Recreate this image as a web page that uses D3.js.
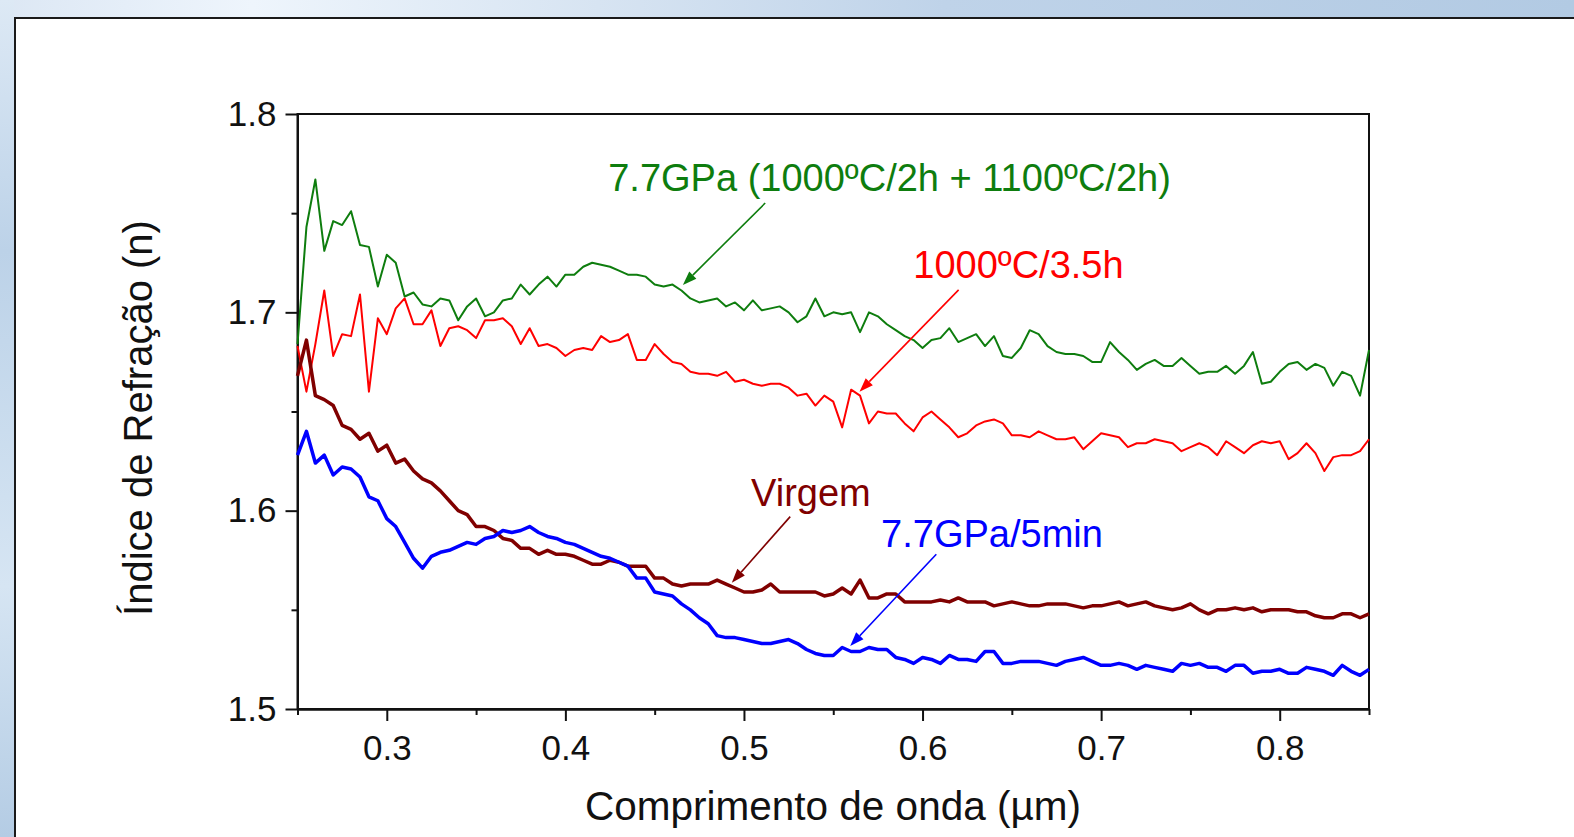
<!DOCTYPE html>
<html>
<head>
<meta charset="utf-8">
<script src="https://cdn.jsdelivr.net/npm/d3@7"></script>
<style>
  html, body { margin: 0; padding: 0; overflow: hidden; }
  body {
    width: 1574px; height: 837px;
    background: linear-gradient(to right, #dce7f4 0%, #eef5fc 16%, #d7e4f2 38%, #bfd3e9 60%, #b2cae3 100%);
  }
  #chart { position: absolute; left: 0; top: 0; }
  text { font-family: "Liberation Sans", Arial, sans-serif; }
</style>
</head>
<body>
<svg id="chart" width="1574" height="837"></svg>
<script>
// Comprimento de onda (µm), amostrado a cada 0.005
const wavelength = [
  0.250, 0.255, 0.260, 0.265, 0.270, 0.275, 0.280, 0.285, 0.290, 0.295,
  0.300, 0.305, 0.310, 0.315, 0.320, 0.325, 0.330, 0.335, 0.340, 0.345,
  0.350, 0.355, 0.360, 0.365, 0.370, 0.375, 0.380, 0.385, 0.390, 0.395,
  0.400, 0.405, 0.410, 0.415, 0.420, 0.425, 0.430, 0.435, 0.440, 0.445,
  0.450, 0.455, 0.460, 0.465, 0.470, 0.475, 0.480, 0.485, 0.490, 0.495,
  0.500, 0.505, 0.510, 0.515, 0.520, 0.525, 0.530, 0.535, 0.540, 0.545,
  0.550, 0.555, 0.560, 0.565, 0.570, 0.575, 0.580, 0.585, 0.590, 0.595,
  0.600, 0.605, 0.610, 0.615, 0.620, 0.625, 0.630, 0.635, 0.640, 0.645,
  0.650, 0.655, 0.660, 0.665, 0.670, 0.675, 0.680, 0.685, 0.690, 0.695,
  0.700, 0.705, 0.710, 0.715, 0.720, 0.725, 0.730, 0.735, 0.740, 0.745,
  0.750, 0.755, 0.760, 0.765, 0.770, 0.775, 0.780, 0.785, 0.790, 0.795,
  0.800, 0.805, 0.810, 0.815, 0.820, 0.825, 0.830, 0.835, 0.840, 0.845,
  0.850
];

// 7.7GPa (1000ºC/2h + 1100ºC/2h)
const nGpaDuplo = [
  1.684, 1.743, 1.767, 1.731, 1.746, 1.744, 1.751, 1.734, 1.733, 1.713,
  1.729, 1.725, 1.708, 1.710, 1.704, 1.703, 1.707, 1.706, 1.696, 1.703,
  1.707, 1.698, 1.700, 1.706, 1.707, 1.714, 1.709, 1.714, 1.718, 1.713,
  1.719, 1.719, 1.723, 1.725, 1.724, 1.723, 1.721, 1.719, 1.719, 1.718,
  1.714, 1.713, 1.714, 1.711, 1.707, 1.705, 1.706, 1.707, 1.703, 1.705,
  1.701, 1.706, 1.701, 1.702, 1.703, 1.700, 1.695, 1.698, 1.707, 1.698,
  1.700, 1.699, 1.700, 1.690, 1.700, 1.698, 1.694, 1.691, 1.688, 1.686,
  1.682, 1.686, 1.687, 1.692, 1.685, 1.687, 1.689, 1.683, 1.688, 1.678,
  1.677, 1.682, 1.691, 1.689, 1.683, 1.680, 1.679, 1.679, 1.678, 1.675,
  1.675, 1.685, 1.680, 1.676, 1.671, 1.674, 1.676, 1.673, 1.673, 1.677,
  1.673, 1.669, 1.670, 1.670, 1.673, 1.669, 1.673, 1.680, 1.664, 1.665,
  1.670, 1.674, 1.675, 1.671, 1.674, 1.672, 1.663, 1.670, 1.668, 1.658,
  1.681
];

// 1000ºC/3.5h
const n1000C = [
  1.683, 1.660, 1.684, 1.711, 1.678, 1.689, 1.688, 1.709, 1.660, 1.697,
  1.689, 1.702, 1.707, 1.694, 1.694, 1.701, 1.683, 1.692, 1.693, 1.691,
  1.687, 1.696, 1.696, 1.697, 1.693, 1.684, 1.692, 1.683, 1.684, 1.682,
  1.678, 1.681, 1.682, 1.681, 1.688, 1.685, 1.686, 1.689, 1.676, 1.676,
  1.684, 1.679, 1.675, 1.674, 1.670, 1.669, 1.669, 1.668, 1.670, 1.665,
  1.666, 1.664, 1.663, 1.664, 1.664, 1.662, 1.658, 1.659, 1.653, 1.658,
  1.655, 1.642, 1.661, 1.658, 1.644, 1.650, 1.649, 1.649, 1.644, 1.640,
  1.647, 1.650, 1.646, 1.642, 1.637, 1.639, 1.643, 1.645, 1.646, 1.644,
  1.638, 1.638, 1.637, 1.640, 1.638, 1.636, 1.636, 1.637, 1.631, 1.635,
  1.639, 1.638, 1.637, 1.632, 1.634, 1.634, 1.636, 1.635, 1.634, 1.630,
  1.632, 1.634, 1.632, 1.628, 1.635, 1.632, 1.629, 1.633, 1.635, 1.634,
  1.635, 1.626, 1.629, 1.634, 1.629, 1.620, 1.627, 1.628, 1.628, 1.630,
  1.636
];

// Virgem
const nVirgem = [
  1.668, 1.686, 1.658, 1.656, 1.653, 1.643, 1.641, 1.636, 1.639, 1.630,
  1.633, 1.624, 1.626, 1.620, 1.616, 1.614, 1.610, 1.605, 1.600, 1.598,
  1.592, 1.592, 1.590, 1.586, 1.585, 1.581, 1.581, 1.578, 1.580, 1.578,
  1.578, 1.577, 1.575, 1.573, 1.573, 1.575, 1.574, 1.572, 1.572, 1.572,
  1.566, 1.566, 1.563, 1.562, 1.563, 1.563, 1.563, 1.565, 1.563, 1.561,
  1.559, 1.559, 1.560, 1.563, 1.559, 1.559, 1.559, 1.559, 1.559, 1.557,
  1.558, 1.561, 1.558, 1.565, 1.556, 1.556, 1.558, 1.558, 1.554, 1.554,
  1.554, 1.554, 1.555, 1.554, 1.556, 1.554, 1.554, 1.554, 1.552, 1.553,
  1.554, 1.553, 1.552, 1.552, 1.553, 1.553, 1.553, 1.552, 1.551, 1.552,
  1.552, 1.553, 1.554, 1.552, 1.553, 1.554, 1.552, 1.551, 1.550, 1.551,
  1.553, 1.550, 1.548, 1.550, 1.550, 1.551, 1.550, 1.551, 1.549, 1.550,
  1.550, 1.550, 1.549, 1.549, 1.547, 1.546, 1.546, 1.548, 1.548, 1.546,
  1.548
];

// 7.7GPa/5min
const nGpa5min = [
  1.628, 1.640, 1.624, 1.628, 1.618, 1.622, 1.621, 1.617, 1.607, 1.605,
  1.596, 1.592, 1.584, 1.576, 1.571, 1.577, 1.579, 1.580, 1.582, 1.584,
  1.583, 1.586, 1.587, 1.590, 1.589, 1.590, 1.592, 1.589, 1.587, 1.586,
  1.584, 1.583, 1.581, 1.579, 1.577, 1.576, 1.574, 1.572, 1.566, 1.566,
  1.559, 1.558, 1.557, 1.553, 1.550, 1.546, 1.543, 1.537, 1.536, 1.536,
  1.535, 1.534, 1.533, 1.533, 1.534, 1.535, 1.533, 1.530, 1.528, 1.527,
  1.527, 1.531, 1.529, 1.529, 1.531, 1.530, 1.530, 1.526, 1.525, 1.523,
  1.526, 1.525, 1.523, 1.527, 1.525, 1.525, 1.524, 1.529, 1.529, 1.523,
  1.523, 1.524, 1.524, 1.524, 1.523, 1.522, 1.524, 1.525, 1.526, 1.524,
  1.522, 1.522, 1.523, 1.522, 1.520, 1.522, 1.521, 1.520, 1.519, 1.523,
  1.522, 1.523, 1.521, 1.521, 1.519, 1.522, 1.522, 1.518, 1.519, 1.519,
  1.520, 1.518, 1.518, 1.521, 1.520, 1.519, 1.517, 1.522, 1.519, 1.517,
  1.520
];

const xMajorTicks = [0.3, 0.4, 0.5, 0.6, 0.7, 0.8];
const xMinorTicks = [0.25, 0.35, 0.45, 0.55, 0.65, 0.75, 0.85];
const yMajorTicks = [1.5, 1.6, 1.7, 1.8];
const yMinorTicks = [1.55, 1.65, 1.75];

const series = [
  { label: "7.7GPa (1000ºC/2h + 1100ºC/2h)", values: nGpaDuplo, color: "#0e7d0e", width: 2 },
  { label: "1000ºC/3.5h", values: n1000C, color: "#ff0000", width: 2 },
  { label: "Virgem", values: nVirgem, color: "#800000", width: 3.5 },
  { label: "7.7GPa/5min", values: nGpa5min, color: "#0000ff", width: 3.5 }
];

// Rótulos com seta (texto em x/n, seta de -> para, em coordenadas de dados)
const annotations = [
  { s: 0, tx: 0.4240, ty: 1.7612, from: [0.5119, 1.7551], to: [0.4658, 1.7138] },
  { s: 1, tx: 0.5948, ty: 1.7172, from: [0.6202, 1.7113], to: [0.5647, 1.6600] },
  { s: 2, tx: 0.5040, ty: 1.6023, from: [0.5259, 1.5970], to: [0.4932, 1.5637] },
  { s: 3, tx: 0.5768, ty: 1.5818, from: [0.6077, 1.5780], to: [0.5595, 1.5318] }
];

const svg = d3.select("#chart");

const defs = svg.append("defs");
const lg = defs.append("linearGradient").attr("id", "leftStrip")
  .attr("x1", 0).attr("y1", 0).attr("x2", 0).attr("y2", 1);
lg.append("stop").attr("offset", "0%").attr("stop-color", "#dde9f5");
lg.append("stop").attr("offset", "30%").attr("stop-color", "#bcd2e8");
lg.append("stop").attr("offset", "70%").attr("stop-color", "#d6e5f3");
lg.append("stop").attr("offset", "100%").attr("stop-color", "#b4cce4");

svg.append("rect")
  .attr("x", 0).attr("y", 0).attr("width", 14).attr("height", 837)
  .attr("fill", "url(#leftStrip)");

// Weißes Panel
svg.append("rect")
  .attr("x", 15).attr("y", 18).attr("width", 1600).attr("height", 900)
  .attr("fill", "#fff").attr("stroke", "#1a1a1a").attr("stroke-width", 2);

const plotLeft = 297.5, plotRight = 1369, plotTop = 114, plotBottom = 709;

const x = d3.scaleLinear().domain([0.25, 0.85]).range([plotLeft, plotRight]);
const y = d3.scaleLinear().domain([1.5, 1.8]).range([plotBottom, plotTop]);

const g = svg.append("g");

// Frame
g.append("rect")
  .attr("x", plotLeft).attr("y", plotTop)
  .attr("width", plotRight - plotLeft).attr("height", plotBottom - plotTop)
  .attr("fill", "none").attr("stroke", "#111").attr("stroke-width", 2);

// Axes
const xAxis = g.append("g").attr("transform", `translate(0,${plotBottom})`);
xAxis.call(d3.axisBottom(x).tickValues(xMajorTicks).tickSize(12).tickSizeOuter(0).tickFormat(d3.format(".1f")));
xAxis.append("g").call(d3.axisBottom(x).tickValues(xMinorTicks).tickSize(6).tickSizeOuter(0).tickFormat(""));

const yAxis = g.append("g").attr("transform", `translate(${plotLeft},0)`);
yAxis.call(d3.axisLeft(y).tickValues(yMajorTicks).tickSize(12).tickSizeOuter(0).tickFormat(d3.format(".1f")));
yAxis.append("g").call(d3.axisLeft(y).tickValues(yMinorTicks).tickSize(6).tickSizeOuter(0).tickFormat(""));

g.selectAll(".domain").attr("stroke", "#111").attr("stroke-width", 2);
g.selectAll(".tick line").attr("stroke", "#111").attr("stroke-width", 2);
xAxis.selectAll(".tick text")
  .attr("font-size", 35).attr("fill", "#111")
  .attr("font-family", "Liberation Sans, Arial, sans-serif")
  .attr("dy", null).attr("y", 51);
yAxis.selectAll(".tick text")
  .attr("font-size", 35).attr("fill", "#111")
  .attr("font-family", "Liberation Sans, Arial, sans-serif")
  .attr("dy", null).attr("x", -21).attr("y", 11);

// Axis labels
g.append("text")
  .attr("x", 833).attr("y", 820)
  .attr("text-anchor", "middle")
  .attr("font-size", 40.5).attr("fill", "#111")
  .text("Comprimento de onda (µm)");

g.append("text")
  .attr("transform", "translate(152,418) rotate(-90)")
  .attr("text-anchor", "middle")
  .attr("font-size", 40).attr("fill", "#111")
  .text("Índice de Refração (n)");

// Lines
const line = d3.line()
  .x((d, i) => x(wavelength[i]))
  .y(d => y(d));

g.selectAll("path.serie")
  .data(series)
  .enter()
  .append("path")
    .attr("class", "serie")
    .attr("fill", "none")
    .attr("stroke", d => d.color)
    .attr("stroke-width", d => d.width)
    .attr("stroke-linejoin", "round")
    .attr("d", d => line(d.values));

// Annotations
annotations.forEach(a => {
  const s = series[a.s];
  const x1 = x(a.from[0]), y1 = y(a.from[1]);
  const x2 = x(a.to[0]), y2 = y(a.to[1]);
  const ang = Math.atan2(y2 - y1, x2 - x1);
  const len = 14, half = 5;
  const bx = x2 - len * Math.cos(ang), by = y2 - len * Math.sin(ang);

  g.append("line")
    .attr("x1", x1).attr("y1", y1).attr("x2", bx).attr("y2", by)
    .attr("stroke", s.color).attr("stroke-width", 1.6);

  g.append("path")
    .attr("d", `M${x2},${y2}L${bx + half * Math.sin(ang)},${by - half * Math.cos(ang)}L${bx - half * Math.sin(ang)},${by + half * Math.cos(ang)}Z`)
    .attr("fill", s.color);

  g.append("text")
    .attr("x", x(a.tx)).attr("y", y(a.ty))
    .attr("font-size", 38).attr("fill", s.color)
    .text(s.label);
});
</script>
</body>
</html>
